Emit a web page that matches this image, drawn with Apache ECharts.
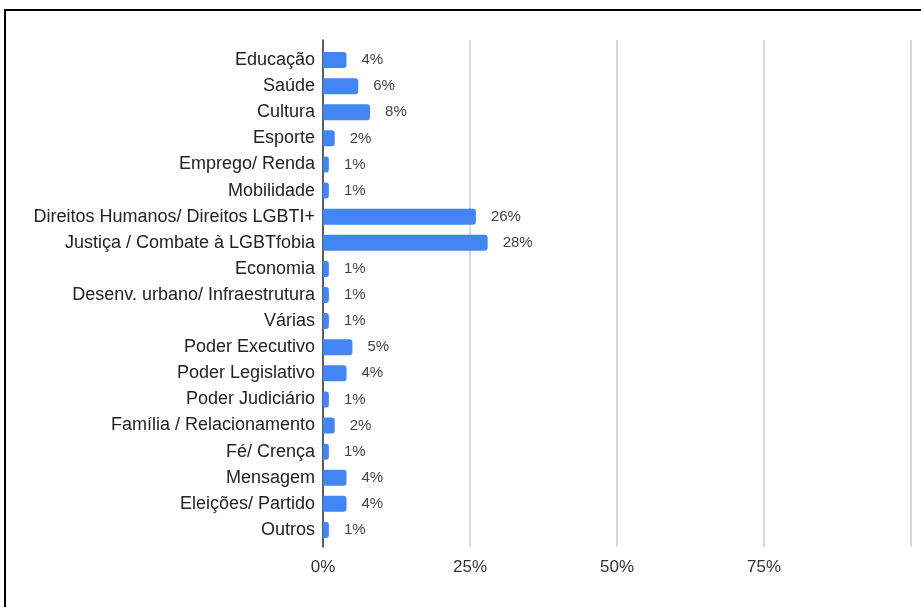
<!DOCTYPE html>
<html>
<head>
<meta charset="utf-8">
<script src="https://cdn.jsdelivr.net/npm/echarts@6/dist/echarts.min.js"></script>
<style>
html,body{margin:0;padding:0;background:#fff;}
#chart{width:921px;height:607px;}
</style>
</head>
<body>
<div id="chart"></div>
<script>
const categories = [
  "Educação","Saúde","Cultura","Esporte","Emprego/ Renda","Mobilidade",
  "Direitos Humanos/ Direitos LGBTI+","Justiça / Combate à LGBTfobia","Economia",
  "Desenv. urbano/ Infraestrutura","Várias","Poder Executivo","Poder Legislativo",
  "Poder Judiciário","Família / Relacionamento","Fé/ Crença","Mensagem",
  "Eleições/ Partido","Outros"
];
const values = [4,6,8,2,1,1,26,28,1,1,1,5,4,1,2,1,4,4,1];
const xTicks = ["0%","25%","50%","75%",""];

const chart = echarts.init(document.getElementById('chart'), null, {renderer:'canvas'});
const font = 'Arial, "Liberation Sans", sans-serif';
chart.setOption({
  backgroundColor:'#fff',
  animation:false,
  graphic:[{
    type:'rect',
    shape:{x:5,y:10,width:1000,height:800},
    style:{fill:'none',stroke:'#000',lineWidth:2},
    silent:true
  }],
  grid:[
    {left:323,top:40,width:588,height:507,containLabel:false},
    {left:323,top:47,width:588,height:496,containLabel:false}
  ],
  xAxis:[
    {gridIndex:0,type:'value',min:0,max:100,interval:25,
     axisLine:{show:false},axisTick:{show:false},
     splitLine:{show:true,lineStyle:{color:'#cccccc',width:1.5}},
     axisLabel:{color:'#333',fontSize:17,fontFamily:font,margin:12,
       formatter:function(v){return xTicks[Math.round(v/25)];}}},
    {gridIndex:1,type:'value',min:0,max:100,show:false}
  ],
  yAxis:[
    {gridIndex:0,type:'category',data:[''],
     axisLine:{show:true,lineStyle:{color:'#333',width:1.5}},
     axisTick:{show:false},axisLabel:{show:false},splitLine:{show:false}},
    {gridIndex:1,type:'category',data:categories,inverse:true,
     axisLine:{show:false},axisTick:{show:false},
     axisLabel:{color:'#222',fontSize:18,fontFamily:font,margin:8}}
  ],
  series:[{
    type:'bar',xAxisIndex:1,yAxisIndex:1,
    data:values,barWidth:16,
    itemStyle:{color:'#4285f4',borderRadius:[0,3,3,0]},
    label:{show:true,position:'right',distance:15,color:'#444',fontSize:15,fontFamily:font,
      formatter:function(p){return p.value+'%';}}
  }]
});
</script>
</body>
</html>
